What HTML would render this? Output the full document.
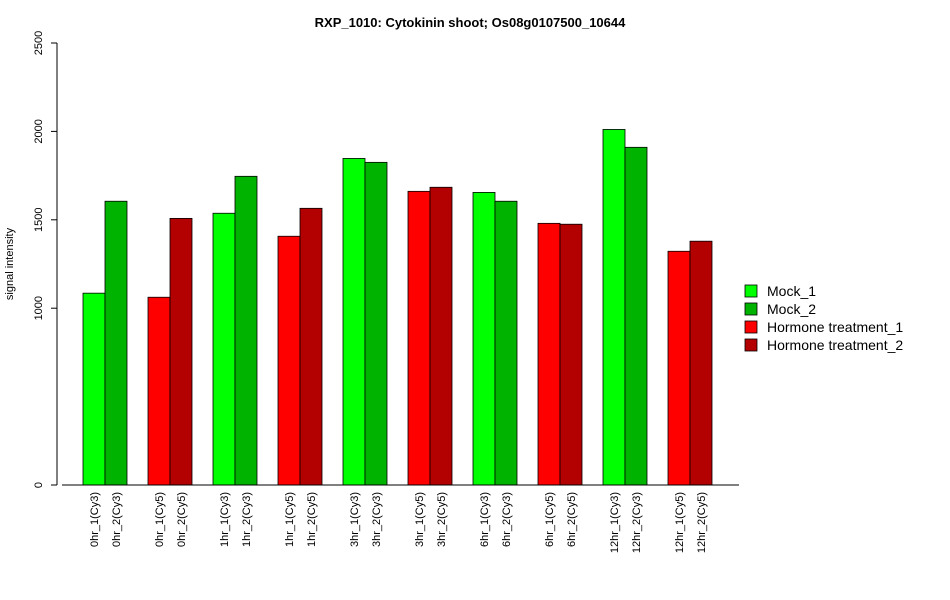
<!DOCTYPE html>
<html><head><meta charset="utf-8"><style>
body{margin:0;background:#fff;}
svg{display:block;font-family:"Liberation Sans",Arial,sans-serif;}
</style></head><body>
<svg id="chart" width="950" height="600" viewBox="0 0 950 600">
<text x="470" y="27" text-anchor="middle" font-size="13" font-weight="bold">RXP_1010: Cytokinin shoot; Os08g0107500_10644</text>
<text transform="translate(13,264) rotate(-90)" text-anchor="middle" font-size="11">signal intensity</text>
<g id="yaxis"></g>
<g id="bars"></g>
<g id="xlabels"></g>
<line x1="62" y1="485" x2="739" y2="485" stroke="#000"/>
<g id="legend"></g>
</svg>
<script>
const categories=["0hr_1(Cy3)","0hr_2(Cy3)","0hr_1(Cy5)","0hr_2(Cy5)","1hr_1(Cy3)","1hr_2(Cy3)","1hr_1(Cy5)","1hr_2(Cy5)","3hr_1(Cy3)","3hr_2(Cy3)","3hr_1(Cy5)","3hr_2(Cy5)","6hr_1(Cy3)","6hr_2(Cy3)","6hr_1(Cy5)","6hr_2(Cy5)","12hr_1(Cy3)","12hr_2(Cy3)","12hr_1(Cy5)","12hr_2(Cy5)"];
const values=[1085,1605,1062,1508,1537,1746,1407,1565,1847,1825,1661,1684,1655,1605,1480,1475,2011,1910,1322,1379];
const groups=[0,1,2,3,0,1,2,3,0,1,2,3,0,1,2,3,0,1,2,3];
const yTicks=[0,1000,1500,2000,2500];
const legendLabels=["Mock_1","Mock_2","Hormone treatment_1","Hormone treatment_2"];
const colors=["#00ff00","#00b300","#ff0000","#b30000"];
const NS="http://www.w3.org/2000/svg";
const y=v=>485-v*0.1768;
const x=i=>83+Math.floor(i/2)*65+(i%2)*22;
function mk(t,a,p){const e=document.createElementNS(NS,t);for(const k in a)e.setAttribute(k,a[k]);p.appendChild(e);return e;}
const ya=document.getElementById('yaxis');
mk('line',{x1:57,y1:y(0),x2:57,y2:y(2500),stroke:'#000'},ya);
yTicks.forEach(t=>{
 const l=mk('line',{x1:51,y1:y(t),x2:57,y2:y(t),stroke:'#000'},ya);
 
 
 const tx=mk('text',{transform:`translate(42,${y(t)}) rotate(-90)`,'text-anchor':'middle','font-size':11},ya);
 tx.textContent=t;
 
 
});
const bg=document.getElementById('bars'),xl=document.getElementById('xlabels');
values.forEach((v,i)=>{
 const r=mk('rect',{x:x(i),y:y(v),width:22,height:y(0)-y(v),fill:colors[groups[i]],stroke:'#000','stroke-width':0.8},bg);
 
 
 const t=mk('text',{transform:`translate(${x(i)+15},492) rotate(-90)`,'text-anchor':'end','font-size':11},xl);
 t.textContent=categories[i];
 
 
});
const lg=document.getElementById('legend');
legendLabels.forEach((s,i)=>{
 const yy=285+i*18;
 const r=mk('rect',{x:745,y:yy,width:12,height:12,fill:colors[i],stroke:'#000','stroke-width':0.8},lg);
 
 
 const t=mk('text',{x:767,y:yy+11,'font-size':14},lg);
 t.textContent=s;
 
 
});
</script>
</body></html>
